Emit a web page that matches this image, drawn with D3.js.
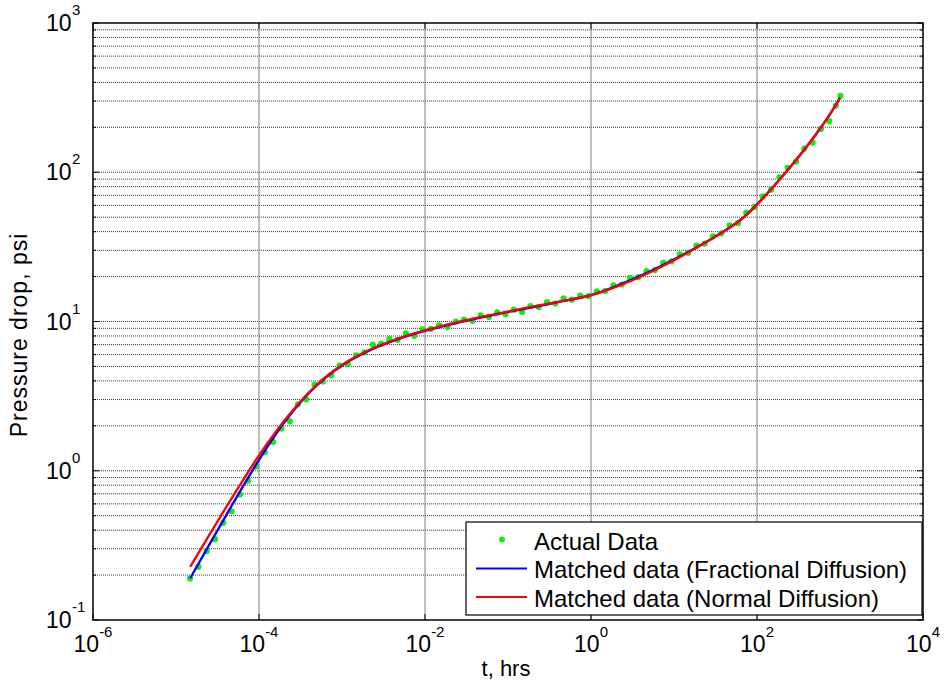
<!DOCTYPE html>
<html>
<head>
<meta charset="utf-8">
<script src="https://cdn.jsdelivr.net/npm/d3@7"></script>
<style>
  body { margin: 0; background: #fff; }
  text { font-family: "Liberation Sans", Arial, sans-serif; fill: #000; }
</style>
</head>
<body>
<svg id="chart" width="945" height="685"></svg>
<script>
// measured data (green dots)
const tActual = [
  1.479e-5, 1.862e-5, 2.344e-5, 2.951e-5, 3.715e-5, 4.677e-5, 5.888e-5, 7.413e-5, 9.333e-5,
  1.175e-4, 1.479e-4, 1.862e-4, 2.344e-4, 2.951e-4, 3.715e-4, 4.677e-4, 5.888e-4, 7.413e-4, 9.333e-4,
  1.175e-3, 1.479e-3, 1.862e-3, 2.344e-3, 2.951e-3, 3.715e-3, 4.677e-3, 5.888e-3, 7.413e-3, 9.333e-3,
  1.175e-2, 1.479e-2, 1.862e-2, 2.344e-2, 2.951e-2, 3.715e-2, 4.677e-2, 5.888e-2, 7.413e-2, 9.333e-2,
  0.1175, 0.1479, 0.1862, 0.2344, 0.2951, 0.3715, 0.4677, 0.5888, 0.7413, 0.9333,
  1.175, 1.479, 1.862, 2.344, 2.951, 3.715, 4.677, 5.888, 7.413, 9.333,
  11.75, 14.79, 18.62, 23.44, 29.51, 37.15, 46.77, 58.88, 74.13, 93.33,
  117.5, 147.9, 186.2, 234.4, 295.1, 371.5, 467.7, 588.8, 741.3, 891.3, 1012
];
const pActual = [
  0.19, 0.227, 0.290, 0.348, 0.448, 0.535, 0.693, 0.857, 1.07,
  1.33, 1.56, 1.92, 2.15, 2.79, 3.01, 3.78, 3.97, 4.36, 5.07,
  5.20, 5.94, 6.21, 7.00, 7.11, 7.64, 7.54, 8.32, 8.02, 8.87,
  8.93, 9.43, 9.18, 9.98, 10.3, 10.1, 11.0, 10.7, 11.5, 11.2,
  12.0, 11.6, 12.7, 12.5, 13.5, 13.2, 14.3, 14.0, 14.9, 14.8,
  15.9, 16.0, 17.5, 17.7, 19.6, 19.8, 21.8, 22.1, 24.7, 25.3,
  28.2, 28.8, 32.3, 33.3, 37.2, 39.0, 44.1, 45.6, 53.7, 58.7,
  68.9, 76.4, 92.5, 107, 118, 144, 158, 195, 220, 279, 325
];

// fitted curves
const tFit = [
  1.48e-5, 2.51e-5, 3.98e-5, 6.31e-5, 1e-4, 1.58e-4, 2.51e-4, 3.98e-4, 6.31e-4,
  1e-3, 1.58e-3, 2.51e-3, 3.98e-3, 6.31e-3, 1e-2, 0.0251, 0.0631, 0.158, 0.398,
  1, 2.0, 5.01, 12.6, 31.6, 63.1, 100, 200, 316, 501, 794, 1000
];
const pFractional = [
  0.1905, 0.3185, 0.4979, 0.7744, 1.183, 1.742, 2.461, 3.305, 4.199,
  5.072, 5.876, 6.655, 7.364, 8.036, 8.653, 9.842, 10.99, 12.16, 13.46,
  15.03, 17.27, 21.53, 27.87, 37.08, 47.87, 60.83, 93.35, 126.5, 176.2, 254.8, 314.8
];
const pNormal = [
  0.227, 0.370, 0.565, 0.853, 1.268, 1.816, 2.518, 3.343, 4.238,
  5.119, 5.931, 6.716, 7.433, 8.110, 8.733, 9.933, 11.09, 12.28, 13.56,
  15.03, 17.07, 21.24, 27.61, 37.08, 47.87, 60.83, 93.35, 126.5, 176.2, 254.8, 314.8
];

const xTickExps = [-6, -4, -2, 0, 2, 4];
const yTickExps = [-1, 0, 1, 2, 3];
const legendLabels = ["Actual Data", "Matched data (Fractional Diffusion)", "Matched data (Normal Diffusion)"];

const svg = d3.select("#chart");
const plotL = 93, plotR = 923, plotT = 23, plotB = 620;
const green = "#10ee10";

const x = d3.scaleLog().domain([1e-6, 1e4]).range([plotL, plotR]);
const y = d3.scaleLog().domain([0.1, 1000]).range([plotB, plotT]);

// minor y positions 2..9 in each decade
const yMinor = [];
[0.1, 1, 10, 100].forEach(d => { for (let m = 2; m <= 9; m++) yMinor.push(d * m); });
const yMajor = yTickExps.map(e => Math.pow(10, e));
const xMajor = xTickExps.map(e => Math.pow(10, e));

// grid
const grid = svg.append("g");
grid.append("g").selectAll("line")
  .data(yMinor.concat(yMajor.slice(1, -1)))
  .join("line")
  .attr("x1", plotL).attr("x2", plotR)
  .attr("y1", d => y(d)).attr("y2", d => y(d))
  .attr("stroke", "#3a3a3a")
  .attr("stroke-width", 1)
  .attr("stroke-dasharray", "1,1");
grid.append("g").selectAll("line")
  .data(xMajor.slice(1, -1))
  .join("line")
  .attr("x1", d => x(d)).attr("x2", d => x(d))
  .attr("y1", plotT).attr("y2", plotB)
  .attr("stroke", "#808080")
  .attr("stroke-width", 1);

// data
svg.append("g")
  .selectAll("circle")
  .data(tActual.map((t, i) => [t, pActual[i]]))
  .join("circle")
  .attr("cx", d => x(d[0]))
  .attr("cy", d => y(d[1]))
  .attr("r", 3.1)
  .attr("fill", green);

const line = d3.line()
  .x(d => x(d[0]))
  .y(d => y(d[1]))
  .curve(d3.curveCatmullRom.alpha(0.5));

svg.append("path")
  .datum(tFit.map((t, i) => [t, pFractional[i]]))
  .attr("fill", "none")
  .attr("stroke", "#0000ff")
  .attr("stroke-width", 2.3)
  .attr("d", line);

svg.append("path")
  .datum(tFit.map((t, i) => [t, pNormal[i]]))
  .attr("fill", "none")
  .attr("stroke", "#ff0000")
  .attr("stroke-width", 2.3)
  .attr("d", line);

// ticks
const ticks = svg.append("g").attr("stroke", "#000").attr("stroke-width", 1);
yMinor.forEach(v => {
  ticks.append("line").attr("x1", plotL).attr("x2", plotL + 3).attr("y1", y(v)).attr("y2", y(v));
  ticks.append("line").attr("x1", plotR).attr("x2", plotR - 3).attr("y1", y(v)).attr("y2", y(v));
});
yMajor.forEach(v => {
  ticks.append("line").attr("x1", plotL).attr("x2", plotL + 6).attr("y1", y(v)).attr("y2", y(v));
  ticks.append("line").attr("x1", plotR).attr("x2", plotR - 6).attr("y1", y(v)).attr("y2", y(v));
});
xMajor.forEach(v => {
  ticks.append("line").attr("x1", x(v)).attr("x2", x(v)).attr("y1", plotB).attr("y2", plotB - 6);
  ticks.append("line").attr("x1", x(v)).attr("x2", x(v)).attr("y1", plotT).attr("y2", plotT + 6);
});

// frame
svg.append("rect")
  .attr("x", plotL).attr("y", plotT)
  .attr("width", plotR - plotL).attr("height", plotB - plotT)
  .attr("fill", "none")
  .attr("stroke", "#000")
  .attr("stroke-width", 1.5);

// tick labels
xTickExps.forEach(e => {
  const t = svg.append("text")
    .attr("x", x(Math.pow(10, e)))
    .attr("y", 652)
    .attr("text-anchor", "middle");
  t.append("tspan").attr("font-size", 23).text("10");
  t.append("tspan").attr("font-size", 15).attr("dy", -15).text(e);
});
yTickExps.forEach(e => {
  const yy = y(Math.pow(10, e));
  svg.append("text").attr("x", 46).attr("y", yy + 8).attr("font-size", 23).text("10");
  svg.append("text").attr("x", 72).attr("y", yy - 8).attr("font-size", 15).text(e);
});

// axis titles
svg.append("text")
  .attr("x", 506).attr("y", 676)
  .attr("text-anchor", "middle")
  .attr("font-size", 22)
  .text("t, hrs");
svg.append("text")
  .attr("transform", "translate(27,335) rotate(-90)")
  .attr("text-anchor", "middle")
  .attr("font-size", 23)
  .attr("letter-spacing", 1)
  .text("Pressure drop, psi");

// legend
const lg = svg.append("g");
lg.append("rect")
  .attr("x", 466).attr("y", 522)
  .attr("width", 456).attr("height", 93)
  .attr("fill", "#fff")
  .attr("stroke", "#000")
  .attr("stroke-width", 1.2);
lg.append("circle").attr("cx", 502).attr("cy", 539.5).attr("r", 3).attr("fill", green);
lg.append("line").attr("x1", 476).attr("x2", 527).attr("y1", 568.5).attr("y2", 568.5)
  .attr("stroke", "#0000ff").attr("stroke-width", 2.2);
lg.append("line").attr("x1", 476).attr("x2", 527).attr("y1", 597).attr("y2", 597)
  .attr("stroke", "#ff0000").attr("stroke-width", 2.2);
legendLabels.forEach((s, i) => {
  lg.append("text")
    .attr("x", 534)
    .attr("y", 550 + i * 28.3)
    .attr("font-size", 24)
    .text(s);
});
</script>
</body>
</html>
